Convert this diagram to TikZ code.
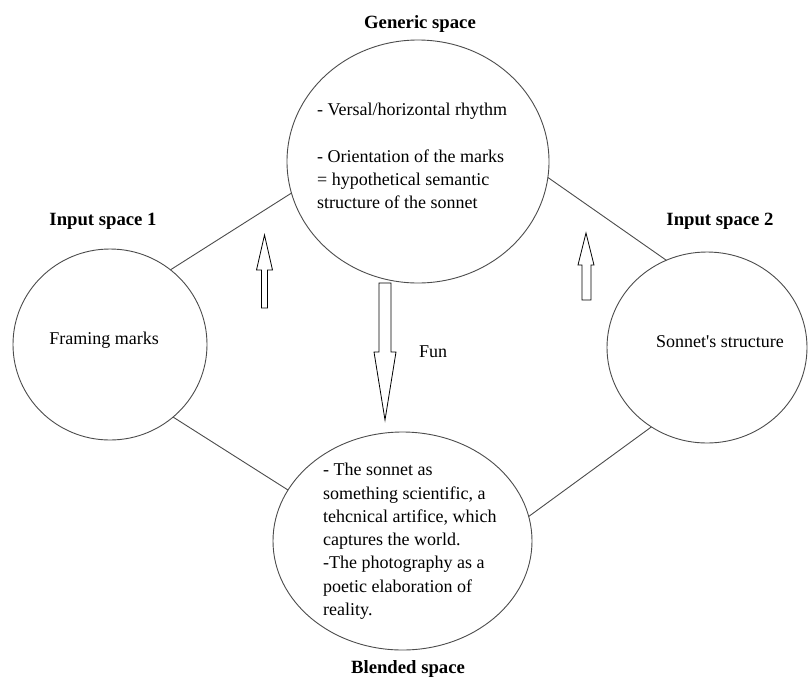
\documentclass[tikz,border=0pt]{standalone}
\usepackage{fontspec}
\setmainfont{Liberation Serif}
\newfontfamily\rawserif{Liberation Serif}
\usetikzlibrary{shapes.geometric}
\begin{document}
\begin{tikzpicture}[x=1pt,y=-1pt,
  space/.style={draw=black!70, line width=0.9pt, ellipse, inner sep=0pt, outer sep=0pt},
  link/.style={draw=black!70, line width=0.9pt},
  title/.style={font=\fontsize{18.7}{22}\selectfont\bfseries, inner sep=0pt},
  body/.style={font=\fontsize{18}{23.3}\selectfont, inner sep=0pt},
  blockarrow/.style={draw=black, line width=0.8pt, fill=white, line join=miter}]
\useasboundingbox (0,0) rectangle (808,681);
\fill[white] (0,0) rectangle (808,681);

% spaces
\node[space, minimum width=262pt, minimum height=243pt] (gen) at (418,161.5) {};
\node[space, minimum width=194pt, minimum height=191pt] (in1) at (110,344.5) {};
\node[space, minimum width=200pt, minimum height=191pt] (in2) at (707,347.5) {};
\node[space, minimum width=259pt, minimum height=218pt] (bl) at (402.5,541) {};

% connectors
\draw[link] (gen.194) -- (in1.51);
\draw[link] (gen.353) -- (in2.115);
\draw[link] (in1.311) -- (bl.156);
\draw[link] (bl.11) -- (in2.235);

% titles
\node[title] (tgen) at (420,24) {Generic space};
\node[title] (tin1) at (103,221) {Input space 1};
\node[title] (tin2) at (720,221) {Input space 2};
\node[title] (tbl) at (408,669) {Blended space};

% contents
\node[body] (fm) at (104,340) {Framing marks};
\node[body] (ss) at (720,342) {Sonnet{\rawserif '}s structure};
\node[body] (fun) at (433,352) {Fun};
\node[body, align=left, anchor=north west] (gtext) at (317,103)
  {- Versal/horizontal rhythm\\[23.3pt]- Orientation of the marks\\= hypothetical semantic\\structure of the sonnet};
\node[body, align=left, anchor=north west] (btext) at (323,463)
  {- The sonnet as\\something scientific, a\\tehcnical artifice, which\\captures the world.\\-The photography as a\\poetic elaboration of\\reality.};

% block arrows
\draw[blockarrow] (261.5,308) -- (261.5,270) -- (256.5,270) -- (264.5,235) -- (272.5,270) -- (267.5,270) -- (267.5,308) -- cycle;
\draw[blockarrow] (582,300) -- (582,265) -- (578,265) -- (586,233) -- (594,265) -- (591,265) -- (591,300) -- cycle;
\draw[blockarrow] (379,283) -- (379,352) -- (374,352) -- (385,420) -- (396,352) -- (391,352) -- (391,283) -- cycle;
\end{tikzpicture}
\end{document}
